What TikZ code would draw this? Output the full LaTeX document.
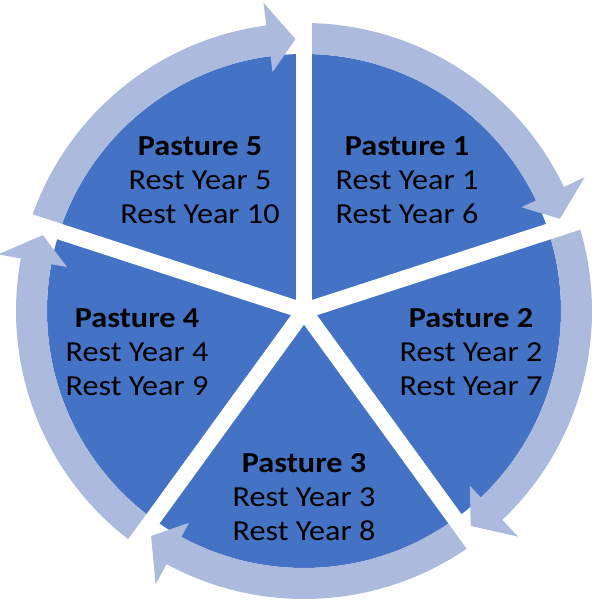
\documentclass[tikz,border=0pt]{standalone}
\usepackage{fontspec}
\setmainfont{Carlito}[FakeStretch=1.11]
\usetikzlibrary{positioning}
\definecolor{pastblue}{RGB}{68,114,196}
\definecolor{pastring}{RGB}{172,186,222}

\begin{document}
\begin{tikzpicture}[x=1pt, y=1pt,
    pastxt/.style={align=center, text=black,
                 font=\fontsize{29}{34}\selectfont},
    gapline/.style={white, line width=16pt},
  ]
  \useasboundingbox (0,-605) rectangle (606,0);
  \coordinate (c) at (304,-311);

  % Scheibe
  \fill[pastblue] (c) circle[radius=257pt];

  % Pfeilring
  \foreach \b in {90,18,-54,-126,-198} {
    \fill[pastring] ([shift={(\b:288pt)}]c)
      arc[start angle=\b, end angle=\b-64.5, radius=288pt]
      -- ([shift={(\b-64.5:311pt)}]c) -- ([shift={(\b-70.2:272pt)}]c)
      -- ([shift={(\b-64.5:241pt)}]c) -- ([shift={(\b-64.5:257pt)}]c)
      arc[start angle=\b-64.5, end angle=\b, radius=257pt] -- cycle;
  }

  % Trennfugen
  \foreach \b in {90,18,-54,-126,-198}
    \draw[gapline] (c) -- ([shift={(\b:293pt)}]c);

  % Weiden
  \node[pastxt] (p1) at (407,-180) {\textbf{Pasture 1}\\Rest Year 1\\Rest Year 6};
  \node[pastxt] (p2) at (471,-352) {\textbf{Pasture 2}\\Rest Year 2\\Rest Year 7};
  \node[pastxt] (p3) at (304,-497) {\textbf{Pasture 3}\\Rest Year 3\\Rest Year 8};
  \node[pastxt] (p4) at (137,-352) {\textbf{Pasture 4}\\Rest Year 4\\Rest Year 9};
  \node[pastxt] (p5) at (200,-180) {\textbf{Pasture 5}\\Rest Year 5\\Rest Year 10};
\end{tikzpicture}
\end{document}
